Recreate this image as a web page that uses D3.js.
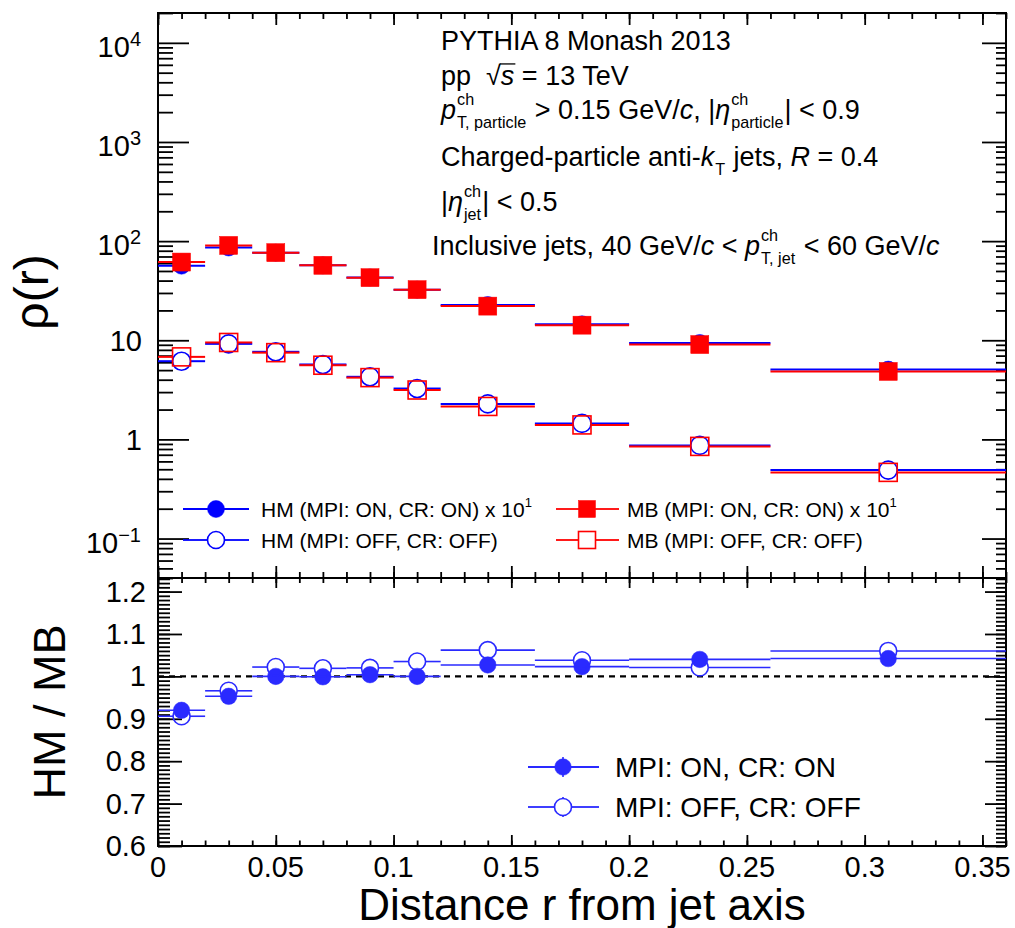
<!DOCTYPE html>
<html>
<head>
<meta charset="utf-8">
<script src="https://cdn.jsdelivr.net/npm/d3@7"></script>
<style>
  body { margin: 0; background: #fff; }
  svg { display: block; }
  text { font-family: "Liberation Sans", Arial, Helvetica, sans-serif; fill: #000; white-space: pre; }
</style>
</head>
<body>
<svg id="chart" width="1015" height="928"></svg>
<script>
// ---- Data: radial bins of the jet-shape distribution ----
const rCenters = [0.01, 0.03, 0.05, 0.07, 0.09, 0.11, 0.14, 0.18, 0.23, 0.31];
const binLow   = [0.00, 0.02, 0.04, 0.06, 0.08, 0.10, 0.12, 0.16, 0.20, 0.26];
const binHigh  = [0.02, 0.04, 0.06, 0.08, 0.10, 0.12, 0.16, 0.20, 0.26, 0.36];

// rho(r), MPI/CR on (drawn scaled by onScale)
const hmOn  = [5.65, 8.62, 7.65, 5.70, 4.30, 3.24, 2.27, 1.45, 0.94, 0.506];
const mbOn  = [6.15, 9.05, 7.65, 5.70, 4.28, 3.24, 2.21, 1.42, 0.905, 0.485];
const onScale = 10;
// rho(r), MPI/CR off
const hmOff = [6.15, 9.20, 7.65, 5.70, 4.28, 3.26, 2.28, 1.45, 0.87, 0.49];
const mbOff = [6.80, 9.50, 7.50, 5.60, 4.20, 3.15, 2.15, 1.40, 0.85, 0.465];

// HM / MB ratios
const ratioOn  = [0.920, 0.953, 1.000, 0.999, 1.004, 1.000, 1.027, 1.023, 1.040, 1.042];
const ratioOff = [0.906, 0.966, 1.022, 1.019, 1.020, 1.035, 1.062, 1.038, 1.021, 1.060];

// Tick labels
const xTickValues = [0, 0.05, 0.1, 0.15, 0.2, 0.25, 0.3, 0.35];
const xTickLabels = ["0", "0.05", "0.1", "0.15", "0.2", "0.25", "0.3", "0.35"];
const logTickValues = [0.1, 1, 10, 100, 1000, 10000];
const ratioTickValues = [0.6, 0.7, 0.8, 0.9, 1.0, 1.1, 1.2];
const ratioTickLabels = ["0.6", "0.7", "0.8", "0.9", "1", "1.1", "1.2"];

// ---- Layout ----
const L = 158, R = 1006, T = 13, MID = 578, B = 846;
const BLUE = "#0000ff", RED = "#ff0000", RATIO_BLUE = "#2a2aff";

const svg = d3.select("#chart");

const x = d3.scaleLinear().domain([0, 0.36]).range([L, R]);
const yTop = d3.scaleLog().domain([0.04, 2e4]).range([MID, T]);
const yBot = d3.scaleLinear().domain([0.6, 1.232]).range([B, MID]);

// ---- Tick helpers ----
function tickGroup(axis, tx, ty) {
  const g = svg.append("g").attr("transform", `translate(${tx},${ty})`).call(axis);
  g.select(".domain").remove();
  g.selectAll(".tick line").attr("stroke", "#000").attr("stroke-width", 1.8);
  g.selectAll(".tick text").remove();
  return g;
}

const xMinor = d3.range(0, 0.3601, 0.01).map(v => +v.toFixed(2));
const logMinor = [];
for (let e = -2; e <= 4; e++) for (let k = 2; k <= 9; k++) {
  const v = k * Math.pow(10, e);
  if (v >= 0.04 && v <= 2e4) logMinor.push(v);
}
const ratioMinor = d3.range(0.6, 1.2321, 0.01).map(v => +v.toFixed(2));

// Upper panel ticks
tickGroup(d3.axisLeft(yTop).tickValues(logMinor).tickSizeInner(-15).tickSizeOuter(0), L, 0);
tickGroup(d3.axisLeft(yTop).tickValues(logTickValues).tickSizeInner(-31).tickSizeOuter(0), L, 0);
tickGroup(d3.axisRight(yTop).tickValues(logMinor).tickSizeInner(-10).tickSizeOuter(0), R, 0);
tickGroup(d3.axisRight(yTop).tickValues(logTickValues).tickSizeInner(-24).tickSizeOuter(0), R, 0);
tickGroup(d3.axisTop(x).tickValues(xMinor).tickSizeInner(-6).tickSizeOuter(0), 0, T);
tickGroup(d3.axisTop(x).tickValues(xTickValues).tickSizeInner(-12).tickSizeOuter(0), 0, T);
tickGroup(d3.axisBottom(x).tickValues(xMinor).tickSizeInner(-6).tickSizeOuter(0), 0, MID);
tickGroup(d3.axisBottom(x).tickValues(xTickValues).tickSizeInner(-12).tickSizeOuter(0), 0, MID);

// Lower panel ticks
tickGroup(d3.axisLeft(yBot).tickValues(ratioMinor).tickSizeInner(-12).tickSizeOuter(0), L, 0);
tickGroup(d3.axisLeft(yBot).tickValues(ratioTickValues).tickSizeInner(-24).tickSizeOuter(0), L, 0);
tickGroup(d3.axisRight(yBot).tickValues(ratioMinor).tickSizeInner(-10).tickSizeOuter(0), R, 0);
tickGroup(d3.axisRight(yBot).tickValues(ratioTickValues).tickSizeInner(-21).tickSizeOuter(0), R, 0);
tickGroup(d3.axisTop(x).tickValues(xMinor).tickSizeInner(-5).tickSizeOuter(0), 0, MID);
tickGroup(d3.axisTop(x).tickValues(xTickValues).tickSizeInner(-10).tickSizeOuter(0), 0, MID);
tickGroup(d3.axisBottom(x).tickValues(xMinor).tickSizeInner(-5.5).tickSizeOuter(0), 0, B);
tickGroup(d3.axisBottom(x).tickValues(xTickValues).tickSizeInner(-11).tickSizeOuter(0), 0, B);

// Frames
svg.append("rect").attr("x", L).attr("y", T).attr("width", R - L).attr("height", MID - T)
  .attr("fill", "none").attr("stroke", "#000").attr("stroke-width", 2);
svg.append("rect").attr("x", L).attr("y", MID).attr("width", R - L).attr("height", B - MID)
  .attr("fill", "none").attr("stroke", "#000").attr("stroke-width", 2);

// ---- Tick labels ----
const LABEL_SIZE = 29;
logTickValues.forEach(v => {
  const e = Math.round(Math.log10(v));
  const yy = yTop(v);
  if (e === 0 || e === 1) {
    svg.append("text").attr("x", 142).attr("y", yy + 11).attr("text-anchor", "end")
      .style("font-size", LABEL_SIZE + "px").text(e === 0 ? "1" : "10");
  } else {
    const t = svg.append("text").attr("x", 141).attr("y", yy + 14).attr("text-anchor", "end")
      .style("font-size", LABEL_SIZE + "px");
    t.append("tspan").text("10");
    t.append("tspan").attr("dy", -11).style("font-size", "20px").text(e < 0 ? "\u2212" + (-e) : String(e));
  }
});
ratioTickValues.forEach((v, i) => {
  svg.append("text").attr("x", 146).attr("y", yBot(v) + 10).attr("text-anchor", "end")
    .style("font-size", LABEL_SIZE + "px").text(ratioTickLabels[i]);
});
xTickValues.forEach((v, i) => {
  svg.append("text").attr("x", x(v)).attr("y", 877).attr("text-anchor", "middle")
    .style("font-size", LABEL_SIZE + "px").text(xTickLabels[i]);
});

// Axis titles
svg.append("text").attr("transform", "translate(48,292) rotate(-90)").attr("text-anchor", "middle")
  .style("font-size", "48px").text("\u03c1(r)");
svg.append("text").attr("transform", "translate(65,712) rotate(-90)").attr("text-anchor", "middle")
  .style("font-size", "45px").text("HM / MB");
svg.append("text").attr("x", 582).attr("y", 920).attr("text-anchor", "middle")
  .style("font-size", "44px").text("Distance r from jet axis");

// ---- Marker drawing ----
function marker(g, shape, filled, color, cx, cy, size) {
  if (shape === "circle") {
    g.append("circle").attr("cx", cx).attr("cy", cy).attr("r", size / 2)
      .attr("fill", filled ? color : "none").attr("stroke", color).attr("stroke-width", filled ? 0.5 : 1.6);
  } else {
    g.append("rect").attr("x", cx - size / 2).attr("y", cy - size / 2).attr("width", size).attr("height", size)
      .attr("fill", filled ? color : "none").attr("stroke", color).attr("stroke-width", filled ? 0.5 : 1.6);
  }
}

function series(yScale, values, factor, color, shape, filled, size, lw) {
  const g = svg.append("g");
  const gap = filled ? 0 : size / 2;
  values.forEach((v, i) => {
    const cx = x(rCenters[i]), cy = yScale(v * factor);
    const x0 = x(binLow[i]), x1 = x(binHigh[i]);
    if (filled) {
      g.append("line").attr("x1", x0).attr("x2", x1).attr("y1", cy).attr("y2", cy)
        .attr("stroke", color).attr("stroke-width", lw);
    } else {
      g.append("line").attr("x1", x0).attr("x2", cx - gap).attr("y1", cy).attr("y2", cy)
        .attr("stroke", color).attr("stroke-width", lw);
      g.append("line").attr("x1", cx + gap).attr("x2", x1).attr("y1", cy).attr("y2", cy)
        .attr("stroke", color).attr("stroke-width", lw);
    }
  });
  values.forEach((v, i) => marker(g, shape, filled, color, x(rCenters[i]), yScale(v * factor), size));
}

// Upper panel
series(yTop, hmOn, onScale, BLUE, "circle", true, 17, 2);
series(yTop, mbOn, onScale, RED, "square", true, 18, 2);
series(yTop, hmOff, 1, BLUE, "circle", false, 18, 2);
series(yTop, mbOff, 1, RED, "square", false, 18, 2);

// Lower panel
svg.append("line").attr("x1", L).attr("x2", R).attr("y1", yBot(1)).attr("y2", yBot(1))
  .attr("stroke", "#000").attr("stroke-width", 2.2).attr("stroke-dasharray", "6,5");
series(yBot, ratioOn, 1, RATIO_BLUE, "circle", true, 16.5, 1.6);
series(yBot, ratioOff, 1, RATIO_BLUE, "circle", false, 17, 1.6);

// ---- Rich text (sub/superscripts) ----
function rich(x0, y0, size, parts) {
  let cx = x0;
  parts.forEach(p => {
    let w = 0;
    if (p.t) {
      const t = svg.append("text").attr("x", cx).attr("y", y0).style("font-size", size + "px").text(p.t);
      if (p.it) t.style("font-style", "italic");
      w = t.node().getComputedTextLength();
    }
    let extra = 0;
    if (p.sub || p.sup) {
      const ss = size * 0.6;
      let ws = 0, wp = 0;
      if (p.sub) {
        const s = svg.append("text").attr("x", cx + w + 1).attr("y", y0 + size * 0.33)
          .style("font-size", ss + "px").text(p.sub);
        ws = s.node().getComputedTextLength();
      }
      if (p.sup) {
        const s = svg.append("text").attr("x", cx + w + 1).attr("y", y0 - size * 0.52)
          .style("font-size", ss + "px").text(p.sup);
        wp = s.node().getComputedTextLength();
      }
      extra = Math.max(ws, wp) + 2;
    }
    if (p.bar) {
      svg.append("line").attr("x1", cx - 1).attr("x2", cx + w + 1)
        .attr("y1", y0 - size * 0.78).attr("y2", y0 - size * 0.78)
        .attr("stroke", "#000").attr("stroke-width", 1.3);
    }
    cx += w + extra;
  });
  return cx;
}

// ---- Annotation ----
const AS = 27;
rich(441, 50, AS, [{ t: "PYTHIA 8 Monash 2013" }]);
rich(441, 85, AS, [{ t: "pp  \u221a" }, { t: "s", it: true, bar: true }, { t: " = 13 TeV" }]);
rich(441, 119, AS, [
  { t: "p", it: true, sub: "T, particle", sup: "ch" },
  { t: " > 0.15 GeV/" }, { t: "c", it: true }, { t: ", |" },
  { t: "\u03b7", it: true, sub: "particle", sup: "ch" }, { t: "| < 0.9" }
]);
rich(441, 166, AS, [
  { t: "Charged-particle anti-" }, { t: "k", it: true, sub: "T" },
  { t: " jets, " }, { t: "R", it: true }, { t: " = 0.4" }
]);
rich(441, 211, AS, [{ t: "|" }, { t: "\u03b7", it: true, sub: "jet", sup: "ch" }, { t: "| < 0.5" }]);
rich(432, 255, AS, [
  { t: "Inclusive jets, 40 GeV/" }, { t: "c", it: true }, { t: " < " },
  { t: "p", it: true, sub: "T, jet", sup: "ch" }, { t: " < 60 GeV/" }, { t: "c", it: true }
]);

// ---- Legends ----
function legendEntry(lx0, lx1, mx, my, color, shape, filled, size, label, sup, tx, fs, vbar) {
  const g = svg.append("g");
  const gap = filled ? 0 : size / 2;
  g.append("line").attr("x1", lx0).attr("x2", mx - gap).attr("y1", my).attr("y2", my)
    .attr("stroke", color).attr("stroke-width", 1.8);
  g.append("line").attr("x1", mx + gap).attr("x2", lx1).attr("y1", my).attr("y2", my)
    .attr("stroke", color).attr("stroke-width", 1.8);
  if (vbar) {
    g.append("line").attr("x1", mx).attr("x2", mx).attr("y1", my - vbar).attr("y2", my - gap)
      .attr("stroke", color).attr("stroke-width", 1.6);
    g.append("line").attr("x1", mx).attr("x2", mx).attr("y1", my + gap).attr("y2", my + vbar)
      .attr("stroke", color).attr("stroke-width", 1.6);
  }
  marker(g, shape, filled, color, mx, my, size);
  const t = g.append("text").attr("x", tx).attr("y", my + fs * 0.36).style("font-size", fs + "px");
  t.append("tspan").text(label);
  if (sup) t.append("tspan").attr("dy", -fs * 0.45).style("font-size", (fs * 0.62) + "px").text(sup);
}

legendEntry(183, 249, 216, 509, BLUE, "circle", true, 17, "HM (MPI: ON, CR: ON) x 10", "1", 261, 21);
legendEntry(183, 249, 216, 540, BLUE, "circle", false, 17, "HM (MPI: OFF, CR: OFF)", null, 261, 21);
legendEntry(556, 619, 587, 509, RED, "square", true, 17, "MB (MPI: ON, CR: ON) x 10", "1", 627, 21);
legendEntry(556, 619, 587, 540, RED, "square", false, 17, "MB (MPI: OFF, CR: OFF)", null, 627, 21);

legendEntry(528, 599, 563, 767, RATIO_BLUE, "circle", true, 16.5, "MPI: ON, CR: ON", null, 615, 28, 10);
legendEntry(528, 599, 563, 807, RATIO_BLUE, "circle", false, 17, "MPI: OFF, CR: OFF", null, 615, 28, 10);
</script>
</body>
</html>
